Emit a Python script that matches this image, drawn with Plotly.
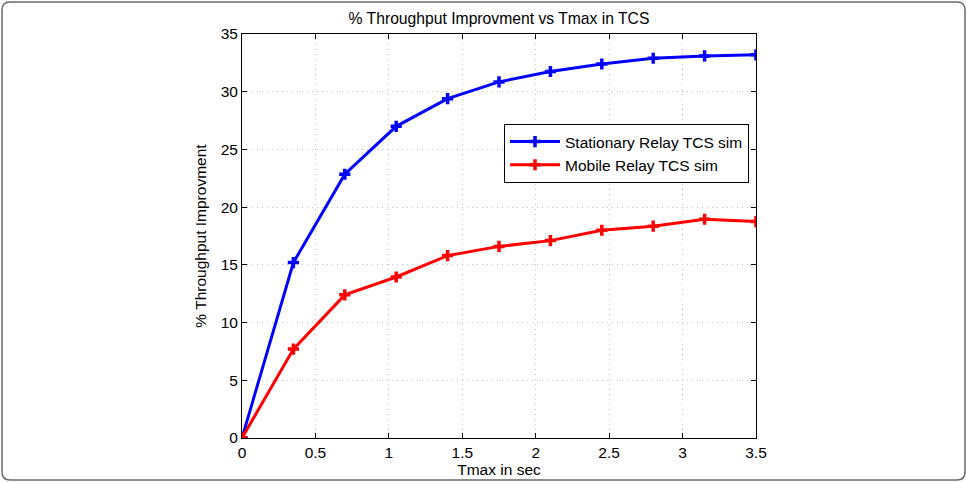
import plotly.graph_objects as go

tmax = [0, 0.35, 0.7, 1.05, 1.4, 1.75, 2.1, 2.45, 2.8, 3.15, 3.5]
stationary = [0, 15.2, 22.85, 27.0, 29.4, 30.85, 31.75, 32.4, 32.9, 33.1, 33.2]
mobile = [0, 7.7, 12.4, 13.95, 15.8, 16.6, 17.1, 18.0, 18.35, 18.95, 18.75]
x_ticks = [0, 0.5, 1, 1.5, 2, 2.5, 3, 3.5]
x_tick_text = ["0", "0.5", "1", "1.5", "2", "2.5", "3", "3.5"]
y_ticks = [0, 5, 10, 15, 20, 25, 30, 35]

font = "Liberation Sans, Arial, sans-serif"

fig = go.Figure()
for name, vals, col in [("Stationary Relay TCS sim", stationary, "#0000ff"),
                        ("Mobile Relay TCS sim", mobile, "#ff0000")]:
    fig.add_trace(go.Scatter(
        x=tmax, y=vals, name=name, mode="lines+markers",
        line=dict(color=col, width=3),
        marker=dict(symbol="cross-thin", size=8, color=col,
                    line=dict(color=col, width=3.5)),
    ))

axis_common = dict(
    showline=True, linecolor="black", linewidth=1, mirror="ticks",
    ticks="inside", ticklen=5, tickcolor="black", automargin=False,
    showgrid=True, gridcolor="#c4c4c4", griddash="1px,4px", gridwidth=1,
    zeroline=False, tickfont=dict(family=font, size=15.5, color="black"),
)

L, R, T, B = 242, 756, 34, 438
W, H = R - L, B - T

def px(x):
    return (x - L) / W

def py(y):
    return (B - y) / H

x0, x1, y0, y1 = px(2), px(965), py(480), py(2)
rx, ry = 8 / W, 8 / H
border = (f"M {x0 + rx} {y1} L {x1 - rx} {y1} Q {x1} {y1} {x1} {y1 - ry} "
          f"L {x1} {y0 + ry} Q {x1} {y0} {x1 - rx} {y0} "
          f"L {x0 + rx} {y0} Q {x0} {y0} {x0} {y0 + ry} "
          f"L {x0} {y1 - ry} Q {x0} {y1} {x0 + rx} {y1} Z")

fig.update_layout(
    width=967, height=482,
    margin=dict(l=L, r=967 - R, t=T, b=482 - B),
    paper_bgcolor="white", plot_bgcolor="white",
    title=dict(text="% Throughput Improvment vs Tmax in TCS",
               font=dict(family=font, size=15.7, color="black"),
               x=(L + W / 2) / 967, xanchor="center", y=1 - 19 / 482, yanchor="middle"),
    xaxis=dict(range=[0, 3.5], tickvals=x_ticks, ticktext=x_tick_text,
               title=dict(text="Tmax in sec", font=dict(family=font, size=15.5, color="black"),
                          standoff=3),
               **axis_common),
    yaxis=dict(range=[0, 35], tickvals=y_ticks,
               title=dict(text="% Throughput Improvment", font=dict(family=font, size=15.5, color="black"),
                          standoff=10),
               **axis_common),
    showlegend=True,
    legend=dict(x=px(504), y=py(124), xanchor="left", yanchor="top",
                bgcolor="white", bordercolor="black", borderwidth=1,
                font=dict(family=font, size=15.5, color="black"),
                tracegroupgap=0, itemwidth=50),
    shapes=[dict(type="path", xref="paper", yref="paper", path=border,
                 line=dict(color="#6a6a6a", width=1.5), fillcolor="rgba(0,0,0,0)",
                 layer="below")],
)

fig.write_html("out.html")
